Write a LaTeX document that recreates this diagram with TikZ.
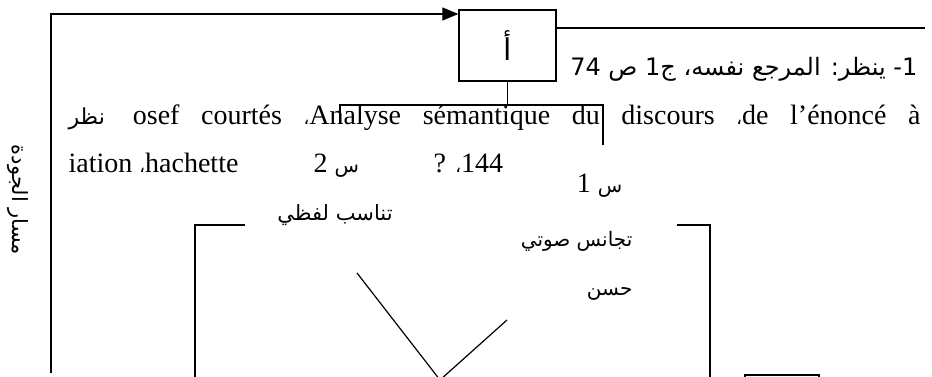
\documentclass[tikz,border=0pt]{standalone}
\usepackage{fontspec}
\setmainfont{Liberation Serif}
\newfontfamily\arabicfont[Script=Arabic]{DejaVu Sans}
\TeXXeTstate=1
\usetikzlibrary{arrows.meta}
\usetikzlibrary{calc}

\newcommand{\artext}[1]{{\arabicfont\beginR #1\endR}}
\newcommand{\ltr}[1]{\beginL #1\endL{}}
\newcommand{\fasila}{{\arabicfont\fontsize{18}{18}\selectfont ،}}

\begin{document}
\begin{tikzpicture}[x=1pt, y=-1pt, >={Triangle[length=16pt, width=13pt]}, line width=1.2pt]
			\tikzstyle{frame} = [draw, line width=1.3pt, minimum width=97pt, minimum height=71pt, inner sep=0pt]
			\tikzstyle{latin} = [inner sep=0pt, font=\fontsize{28}{32}\selectfont]
			\tikzstyle{arab} = [inner sep=0pt, font=\arabicfont\fontsize{20}{24}\selectfont]
			\useasboundingbox (0,0) rectangle (932,377);
			\clip (0,0) rectangle (932,377);
			\begin{scope}
			\path

			node[frame] (boxA) at (507.5,45.5) {\arabicfont\fontsize{30}{34}\selectfont أ}
			node[frame, minimum width=74pt, minimum height=30pt] (stub) at (782,390) {}

			node[latin, anchor=base east, font=\arabicfont\fontsize{24}{28}\selectfont] (note) at (918,76)
				{\beginR\ltr{1-} ينظر: المرجع نفسه، ج\ltr{1} ص \ltr{74}\endR}
			node[latin, anchor=base west] (ref) at (68,125)
				{\makebox[852pt][s]{\artext{\fontsize{22}{22}\selectfont نظر}\quad osef courtés \fasila Analyse sémantique du discours \fasila de l’énoncé à}}
			node[latin, anchor=base west] (pub) at (68,173) {iation \fasila hachette}
			node[latin, anchor=base west] (sinB) at (313,173) {2 \artext{\fontsize{20}{20}\selectfont س}}
			node[latin, anchor=base west] (page) at (433,173) {? \fasila 144}
			node[latin, anchor=base east] (sinA) at (623,193) {1 \artext{\fontsize{20}{20}\selectfont س}}

			node[arab, font=\arabicfont\fontsize{21}{25}\selectfont] (tanasub) at (335,215) {\artext{تناسب لفظي}}
			node[arab, anchor=east] (tajanus) at (633,241) {\artext{تجانس صوتي}}
			node[arab, anchor=east] (hasan) at (633,294) {\artext{حسن}}
			node[arab, rotate=-90, font=\arabicfont\fontsize{21}{25}\selectfont] (masar) at (18,200) {\artext{مسار الجودة}}
			;

			\coordinate (foot) at (51,373);
			\coordinate (turn) at (51,14);
			\coordinate (tail) at (925,28);
			\coordinate (forkL) at (340,105);
			\coordinate (forkR) at (603,105);
			\coordinate (legL) at (340,123);
			\coordinate (legR) at (603,145);
			\coordinate (lbTip) at (245,225);
			\coordinate (lbFoot) at (195,380);
			\coordinate (rbTip) at (677,225);
			\coordinate (rbFoot) at (710,380);
			\coordinate (vL) at (357,273);
			\coordinate (vR) at (507,320);
			\coordinate (vBase) at (440,380);

			\draw[->] (foot) -- (turn) -- (turn -| boxA.west);
			\draw (boxA.east |- tail) -- (tail);
			\draw (boxA.south) -- (boxA.south |- forkL);
			\draw (legL) -- (forkL) -- (forkR) -- (legR);
			\draw (lbTip) -| (lbFoot);
			\draw (rbTip) -| (rbFoot);
			\draw (vL) -- (vBase) -- (vR);
			\end{scope}

\end{tikzpicture}
\end{document}
